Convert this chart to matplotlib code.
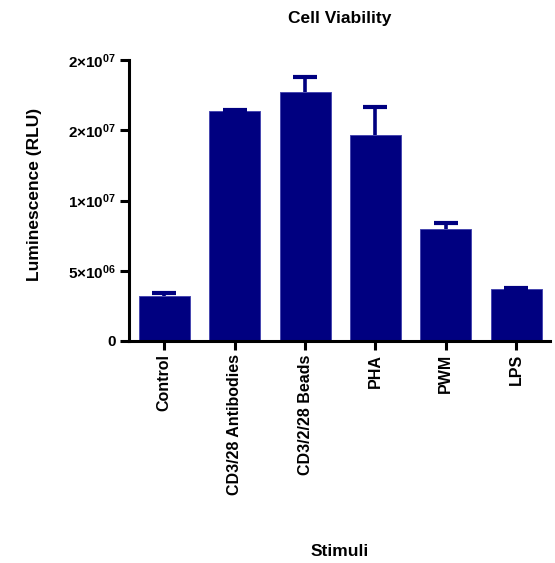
import matplotlib
matplotlib.use("Agg")
import matplotlib.pyplot as plt

plt.rcParams['font.family'] = ['Liberation Sans', 'DejaVu Sans']
plt.rcParams['mathtext.fontset'] = 'custom'
plt.rcParams['mathtext.rm'] = 'Liberation Sans:bold'
plt.rcParams['mathtext.bf'] = 'Liberation Sans:bold'
plt.rcParams['mathtext.it'] = 'Liberation Sans:bold'

categories = ["Control", "CD3/28 Antibodies", "CD3/2/28 Beads", "PHA", "PWM", "LPS"]
means = [3.2e6, 1.64e7, 1.77e7, 1.463e7, 7.94e6, 3.67e6]
errors = [0.19e6, 0.01e6, 1.07e6, 2.06e6, 0.47e6, 0.07e6]
ytick_values = [0, 5e6, 1e7, 1.5e7, 2e7]
ytick_labels = ["0", r"5×10$^{06}$", r"1×10$^{07}$", r"2×10$^{07}$", r"2×10$^{07}$"]

navy = "#000080"

fig = plt.figure(figsize=(5.55, 5.63), dpi=100)
ax = fig.add_axes([129.3/555, 1-341/563, (550-129.3)/555, (341-60)/563])

x = list(range(len(categories)))
ax.bar(x, means, width=0.725, color=navy, edgecolor="#4848b0", linewidth=0.7, zorder=2)
_, caplines, _ = ax.errorbar(x, means, yerr=[[0]*len(errors), errors], fmt="none", ecolor=navy,
                             elinewidth=2.6, capsize=8.6, capthick=3.0, zorder=3)
caplines[0].set_visible(False)

ax.set_xlim(-0.497, 5.48)
ax.set_ylim(0, 2e7)
ax.set_yticks(ytick_values)
ax.set_yticklabels(ytick_labels, fontsize=11, fontweight="bold")
ax.set_xticks(x)
ax.set_xticklabels(categories, rotation=90, fontsize=11.5, fontweight="bold")

for s in ["top", "right"]:
    ax.spines[s].set_visible(False)
for s in ["left", "bottom"]:
    ax.spines[s].set_linewidth(2.2)
ax.tick_params(axis="both", width=2.2, length=6.5, direction="out", pad=3)

ax.set_ylabel("Luminescence (RLU)", fontsize=12.5, fontweight="bold")
ax.yaxis.set_label_coords((42-129.3)/420.7, 0.52)
fig.text(339.6/555, 1-551/563, "Stimuli", ha="center", va="center", fontsize=12.5, fontweight="bold")
fig.text(339.6/555, 1-19/563, "Cell Viability", ha="center", va="center", fontsize=12.5, fontweight="bold")

fig.savefig("out.png", dpi=100)
